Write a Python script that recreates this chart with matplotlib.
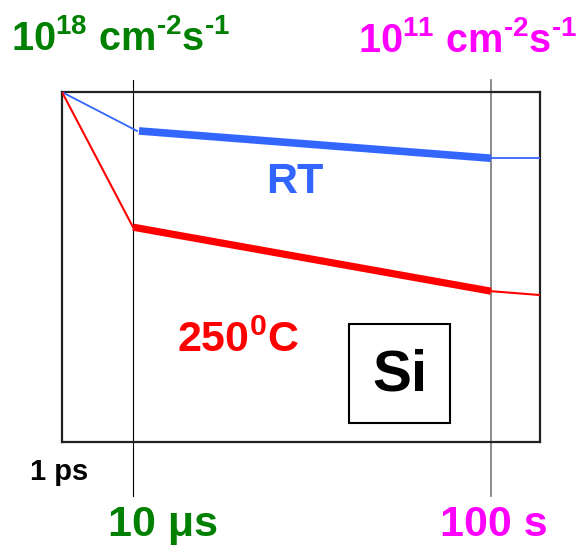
import matplotlib
matplotlib.use('Agg')
import matplotlib.pyplot as plt
from matplotlib.patches import Rectangle

plt.rcParams['font.family'] = ['Liberation Sans', 'DejaVu Sans']
plt.rcParams['font.weight'] = 'bold'
plt.rcParams['mathtext.fontset'] = 'custom'
plt.rcParams['mathtext.rm'] = 'Liberation Sans:bold'
plt.rcParams['mathtext.it'] = 'Liberation Sans:bold'
plt.rcParams['mathtext.bf'] = 'Liberation Sans:bold'

# schematic time axis (not to scale): 1 ps, 10 us, 100 s
time_labels = ['1 ps', '10 \u03bcs', '100 s']
time_marks = [0.0, 0.1485, 0.8975]
flux_labels = ['10$^{18}$ cm$^{\u20102}$s$^{\u20101}$',
               '10$^{11}$ cm$^{\u20102}$s$^{\u20101}$']

# RT curve (thin - thick - thin)
rt_x = [0.0, 0.157, 0.161, 0.8975, 1.0]
rt_y = [1.0, 0.889, 0.889, 0.811, 0.811]
# 250 C curve
hot_x = [0.0, 0.1485, 0.8975, 1.0]
hot_y = [1.0, 0.614, 0.431, 0.42]

BLUE = '#3366ff'
RED = '#ff0000'
GREEN = '#008000'
MAGENTA = '#ff00ff'

fig = plt.figure(figsize=(5.78, 5.45), dpi=100)
ax = fig.add_axes([0.1073, 0.189, 0.827, 0.642])
ax.set_xlim(0, 1)
ax.set_ylim(0, 1)
ax.set_xticks([])
ax.set_yticks([])
for s in ax.spines.values():
    s.set_linewidth(1.6)
    s.set_color('#222222')

# vertical time markers, running past the frame
ax.plot([time_marks[1]] * 2, [-0.154, 1.034], color='black', lw=0.8,
        clip_on=False, zorder=1)
ax.plot([time_marks[2]] * 2, [-0.154, 1.034], color='#777777', lw=1.2,
        clip_on=False, zorder=1)

# RT
ax.plot(rt_x[:2], rt_y[:2], color=BLUE, lw=1.3, zorder=3)
ax.plot(rt_x[2:4], rt_y[2:4], color=BLUE, lw=5.5, solid_capstyle='butt', zorder=3)
ax.plot(rt_x[3:], rt_y[3:], color=BLUE, lw=1.3, zorder=3)
# 250 C
ax.plot(hot_x[:2], hot_y[:2], color=RED, lw=1.5, zorder=3)
ax.plot(hot_x[1:3], hot_y[1:3], color=RED, lw=5.2, solid_capstyle='butt', zorder=3)
ax.plot(hot_x[2:], hot_y[2:], color=RED, lw=1.5, zorder=3)

ax.text(0.487, 0.742, 'RT', color=BLUE, fontsize=31, fontweight='bold',
        ha='center', va='center')
ax.text(0.368, 0.29, '250$^{0}$C', color=RED, fontsize=31, fontweight='bold',
        ha='center', va='center')
ax.add_patch(Rectangle((0.6, 0.054), 0.211, 0.283, fill=False,
                       edgecolor='black', lw=1.5))
ax.text(0.706, 0.19, 'Si', color='black', fontsize=42, fontweight='bold',
        ha='center', va='center')

# flux labels on top
fig.text(11 / 578, 1 - 50 / 545, flux_labels[0], color=GREEN, fontsize=28.5,
         fontweight='bold', ha='left', va='baseline')
fig.text(577 / 578, 1 - 52 / 545, flux_labels[1], color=MAGENTA, fontsize=28.5,
         fontweight='bold', ha='right', va='baseline')

# time labels at bottom
fig.text(59 / 578, 1 - 472 / 545, time_labels[0], color='black', fontsize=21,
         fontweight='bold', ha='center', va='center')
fig.text(163 / 578, 1 - 525 / 545, time_labels[1], color=GREEN, fontsize=31,
         fontweight='bold', ha='center', va='center')
fig.text(494 / 578, 1 - 525 / 545, time_labels[2], color=MAGENTA, fontsize=31,
         fontweight='bold', ha='center', va='center')

fig.savefig('out.png', dpi=100)
